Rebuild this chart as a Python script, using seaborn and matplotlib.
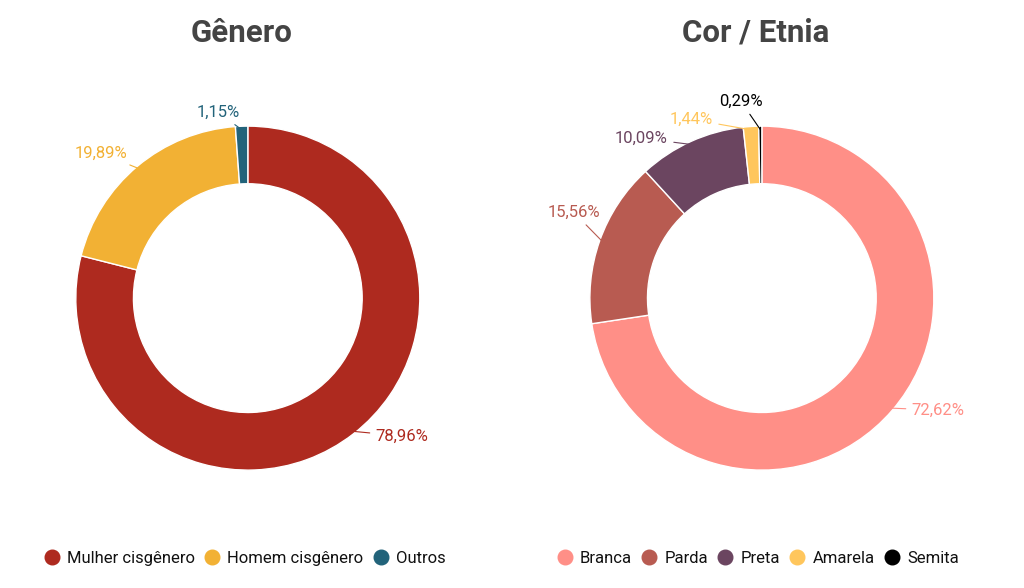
import matplotlib
matplotlib.use("Agg")
import matplotlib.pyplot as plt
import seaborn as sns
import numpy as np
from matplotlib.lines import Line2D

sns.set_theme(style="white")
plt.rcParams["font.family"] = ["Roboto", "DejaVu Sans"]

genero_labels = ["Mulher cisgênero", "Homem cisgênero", "Outros"]
genero_values = [78.96, 19.89, 1.15]
genero_colors = ["#AE2A1F", "#F2B134", "#22637A"]

etnia_labels = ["Branca", "Parda", "Preta", "Amarela", "Semita"]
etnia_values = [72.62, 15.56, 10.09, 1.44, 0.29]
etnia_colors = ["#FF8F87", "#B85B51", "#6B4560", "#FFC65C", "#000000"]

# where each percent label sits (radius units from centre) and its alignment
genero_text = [((0.744, -0.802), "left"), ((-0.703, 0.843), "right"), ((-0.174, 1.081), "center")]
etnia_text = [((0.872, -0.651), "left"), ((-0.942, 0.50), "right"), ((-0.547, 0.93), "right"),
              ((-0.285, 1.04), "right"), ((-0.122, 1.145), "center")]


def fmt(v):
    return f"{v:.2f}".replace(".", ",") + "%"


def donut(ax, labels, values, colors, text_pos):
    wedges, _ = ax.pie(values, colors=colors, startangle=90, counterclock=False,
                       wedgeprops=dict(width=0.335, edgecolor="white", linewidth=1))
    for w, v, c, (pos, ha) in zip(wedges, values, colors, text_pos):
        ang = np.deg2rad((w.theta1 + w.theta2) / 2)
        start = (0.98 * np.cos(ang), 0.98 * np.sin(ang))
        ax.annotate(fmt(v), xy=start, xytext=pos, ha=ha, va="center",
                    fontsize=12, color=c,
                    arrowprops=dict(arrowstyle="-", color=c, lw=0.8,
                                    shrinkA=2, shrinkB=0))
    ax.set_xlim(-1, 1)
    ax.set_ylim(-1, 1)
    ax.set_aspect("equal")
    ax.axis("off")


fig = plt.figure(figsize=(10.24, 5.88), dpi=100)
ax1 = fig.add_axes([0.242 - 0.168, 0.493 - 0.2925, 0.336, 0.585])
ax2 = fig.add_axes([0.744 - 0.168, 0.493 - 0.2925, 0.336, 0.585])

donut(ax1, genero_labels, genero_values, genero_colors, genero_text)
donut(ax2, etnia_labels, etnia_values, etnia_colors, etnia_text)

fig.text(0.236, 0.944, "Gênero", ha="center", va="center", fontsize=22.5,
         fontweight="bold", color="#444444")
fig.text(0.738, 0.944, "Cor / Etnia", ha="center", va="center", fontsize=22.5,
         fontweight="bold", color="#444444")


def legend(labels, colors, x):
    handles = [Line2D([], [], marker="o", linestyle="", markersize=10.5,
                      markerfacecolor=c, markeredgecolor=c) for c in colors]
    fig.legend(handles, labels, loc="center", bbox_to_anchor=(x, 0.051),
               ncol=len(labels), frameon=False, fontsize=12, handletextpad=0.3,
               columnspacing=0.45, handlelength=1.2, labelcolor="#111111")


legend(genero_labels, genero_colors, 0.238)
legend(etnia_labels, etnia_colors, 0.739)

fig.savefig("out.png", dpi=100)
